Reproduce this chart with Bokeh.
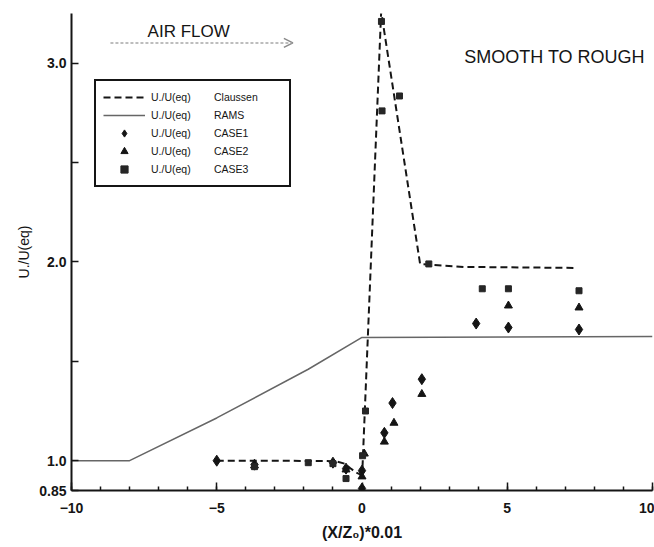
from bokeh.plotting import figure
from bokeh.models import (Range1d, FixedTicker, Legend, LegendItem, Label, Arrow, OpenHead)
from bokeh.embed import file_html
from bokeh.resources import INLINE

# ---- data ----
claussen_x = [-5.0, -3.0, -1.2, -0.85, -0.6, -0.4, -0.2, -0.05, 0.0, 0.66, 2.0, 3.5, 7.3]
claussen_y = [1.0, 1.0, 0.998, 0.995, 0.985, 0.962, 0.94, 0.93, 0.905, 3.26, 1.99, 1.975, 1.97]

rams_x = [-10.0, -8.0, -5.0, -1.85, 0.0, 10.0]
rams_y = [1.0, 1.0, 1.215, 1.46, 1.62, 1.625]

case1_x = [-5.0, -3.7, -1.0, -0.55, 0.0, 0.0, 0.77, 1.05, 2.06, 3.93, 5.04, 7.47]
case1_y = [1.0, 0.98, 0.99, 0.96, 0.86, 0.95, 1.14, 1.29, 1.41, 1.69, 1.67, 1.66]

case2_x = [-3.7, -0.55, 0.0, 0.08, 0.77, 1.1, 2.06, 5.04, 7.47]
case2_y = [0.975, 0.955, 0.92, 1.035, 1.095, 1.19, 1.335, 1.78, 1.77]

case3_x = [-3.7, -1.85, -1.0, -0.55, 0.02, 0.12, 0.67, 0.69, 1.29, 2.3, 4.14, 5.04, 7.47]
case3_y = [0.97, 0.99, 0.985, 0.91, 1.025, 1.25, 3.21, 2.76, 2.835, 1.99, 1.865, 1.865, 1.855]

x_ticks = [-10, -5, 0, 5, 10]
x_minor = list(range(-10, 11))
y_ticks = [0.85, 1.0, 1.5, 2.0, 2.5, 3.0]
y_tick_labels = {0.85: "0.85", 1.0: "1.0", 1.5: "", 2.0: "2.0", 2.5: "", 3.0: "3.0"}

FONT = "Liberation Sans"
INK = "#151515"

p = figure(width=654, height=547, output_backend="svg", toolbar_location=None,
           x_range=Range1d(-10, 10), y_range=Range1d(0.85, 3.25),
           min_border_left=71, min_border_right=2, min_border_top=13, min_border_bottom=57)
p.outline_line_color = None
p.xgrid.visible = False
p.ygrid.visible = False
p.background_fill_color = "white"
p.border_fill_color = "white"

for ax in (p.xaxis[0], p.yaxis[0]):
    ax.axis_line_width = 2
    ax.axis_line_color = INK
    ax.major_tick_line_color = INK
    ax.major_tick_line_width = 1.5
    ax.minor_tick_line_color = INK
    ax.minor_tick_line_width = 1.5
    ax.major_tick_out = 0
    ax.minor_tick_out = 0
    ax.major_label_text_font = FONT
    ax.major_label_text_font_style = "bold"
    ax.major_label_text_color = INK
    ax.axis_label_text_font = FONT
    ax.axis_label_text_color = INK

xa = p.xaxis[0]
xa.ticker = FixedTicker(ticks=x_ticks, minor_ticks=x_minor)
xa.major_tick_in = 8
xa.minor_tick_in = 4
xa.major_label_text_font_size = "14px"
xa.major_label_standoff = 12
xa.axis_label = "(X/Z\u2080)*0.01"
xa.axis_label_text_font_size = "16px"
xa.axis_label_text_font_style = "bold"
xa.axis_label_standoff = 8

ya = p.yaxis[0]
ya.ticker = FixedTicker(ticks=y_ticks, minor_ticks=[])
ya.major_label_overrides = y_tick_labels
ya.major_tick_in = 7
ya.minor_tick_in = 0
ya.major_label_text_font_size = "14px"
ya.major_label_standoff = 5
ya.axis_label = "U./U(eq)"
ya.axis_label_text_font_size = "14px"
ya.axis_label_text_font_style = "normal"
ya.axis_label_standoff = 4

# ---- glyphs ----
r_rams = p.line(rams_x, rams_y, line_color="#666666", line_width=1.5)
r_cl = p.line(claussen_x, claussen_y, line_color=INK, line_width=2, line_dash="7 4")
r_c1 = p.scatter(case1_x, case1_y, marker="diamond", size=11, fill_color=INK, line_color=INK)
r_c2 = p.scatter(case2_x, case2_y, marker="triangle", size=8, fill_color=INK, line_color=INK)
r_c3 = p.scatter(case3_x, case3_y, marker="square", size=6, fill_color="#262626", line_color="#262626")

# ---- legend ----
pad = "\u00a0" * 8
items = [
    LegendItem(label="U./U(eq)" + pad + "Claussen", renderers=[r_cl]),
    LegendItem(label="U./U(eq)" + pad + "RAMS", renderers=[r_rams]),
    LegendItem(label="U./U(eq)" + pad + "CASE1", renderers=[r_c1]),
    LegendItem(label="U./U(eq)" + pad + "CASE2", renderers=[r_c2]),
    LegendItem(label="U./U(eq)" + pad + "CASE3", renderers=[r_c3]),
]
legend = Legend(items=items, location=(23, 303), margin=0, padding=7, spacing=0,
                glyph_width=42, glyph_height=18, label_height=18, label_width=131,
                label_standoff=6, label_text_font=FONT, label_text_font_size="10.5px",
                label_text_color=INK, border_line_color=INK, border_line_width=2,
                border_line_alpha=1.0,
                background_fill_color="white", background_fill_alpha=1.0)
p.add_layout(legend)

# ---- annotations ----
p.add_layout(Label(x=-7.38, y=3.157, text="AIR FLOW", text_font=FONT,
                   text_font_size="17px", text_color=INK, text_baseline="alphabetic"))
p.add_layout(Label(x=3.52, y=3.032, text="SMOOTH TO ROUGH", text_font=FONT,
                   text_font_size="18px", text_color=INK, text_baseline="alphabetic"))
p.add_layout(Arrow(x_start=-8.66, y_start=3.102, x_end=-2.38, y_end=3.102,
                   line_color="#a8a8a8", line_width=1.5, line_dash="3 2",
                   end=OpenHead(size=9, line_color="#8a8a8a", line_width=1.5)))

open("out.html", "w").write(file_html(p, INLINE))
